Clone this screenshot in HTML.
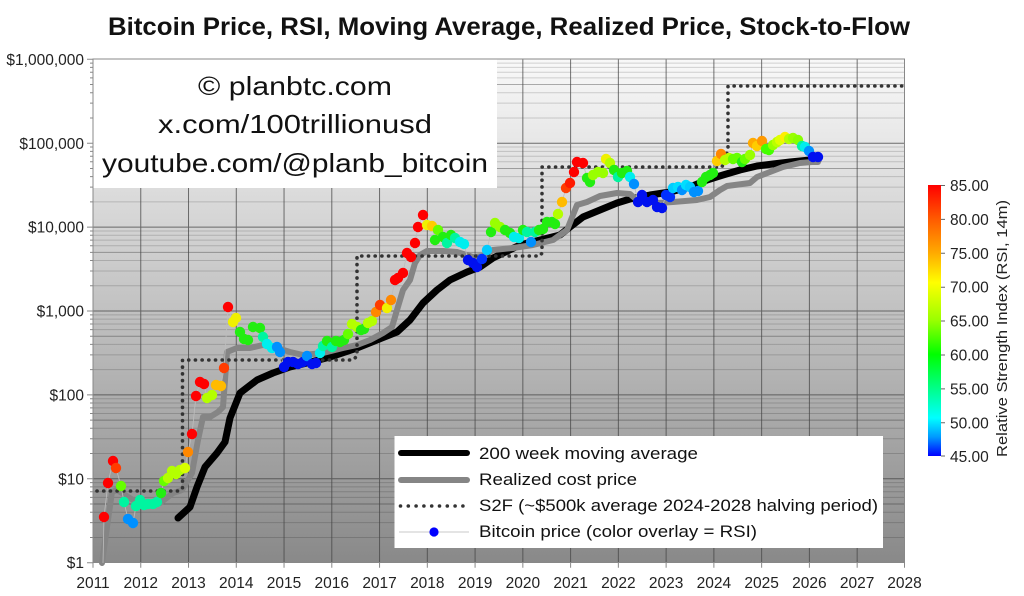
<!DOCTYPE html>
<html><head><meta charset="utf-8">
<style>
html,body{margin:0;padding:0;background:#fff;}
svg{display:block;font-family:"Liberation Sans",sans-serif;}
</style></head>
<body>
<svg width="1024" height="596" viewBox="0 0 1024 596" xmlns="http://www.w3.org/2000/svg">
<defs>
<linearGradient id="bg" x1="0" y1="0" x2="0" y2="1">
<stop offset="0" stop-color="#f9f9f9"/>
<stop offset="1" stop-color="#898989"/>
</linearGradient>
<linearGradient id="cb" x1="0" y1="0" x2="0" y2="1">
<stop offset="0" stop-color="#ff0000"/>
<stop offset="0.125" stop-color="#ff5a00"/>
<stop offset="0.25" stop-color="#ffaa00"/>
<stop offset="0.36" stop-color="#ffff00"/>
<stop offset="0.5" stop-color="#99ff00"/>
<stop offset="0.625" stop-color="#00ff00"/>
<stop offset="0.75" stop-color="#00ff88"/>
<stop offset="0.86" stop-color="#00ffff"/>
<stop offset="0.93" stop-color="#0099ff"/>
<stop offset="1" stop-color="#0000ff"/>
</linearGradient>
</defs>

<!-- title -->
<text x="108" y="35" font-size="25" font-weight="bold" fill="#111" textLength="802" lengthAdjust="spacingAndGlyphs">Bitcoin Price, RSI, Moving Average, Realized Price, Stock-to-Flow</text>

<!-- plot background -->
<rect x="93" y="59" width="811.5" height="503.5" fill="url(#bg)"/>

<!-- minor grid -->
<path fill="none" stroke="#000" stroke-opacity="0.16" stroke-width="1" d="
M93,537.45H904M93,522.67H904M93,512.19H904M93,497.41H904M93,491.8H904M93,486.93H904M93,482.64H904
M93,453.55H904M93,438.77H904M93,428.29H904M93,413.51H904M93,407.9H904M93,403.03H904M93,398.74H904
M93,369.65H904M93,354.87H904M93,344.39H904M93,329.61H904M93,324H904M93,319.13H904M93,314.84H904
M93,285.75H904M93,270.97H904M93,260.49H904M93,245.71H904M93,240.1H904M93,235.23H904M93,230.94H904
M93,201.85H904M93,187.07H904M93,176.59H904M93,161.81H904M93,156.2H904M93,151.33H904M93,147.04H904
M93,117.95H904M93,103.17H904M93,92.69H904M93,77.91H904M93,72.3H904M93,67.43H904M93,63.14H904"/>
<path fill="none" stroke="#000" stroke-opacity="0.3" stroke-width="1" d="M93,504.05H904M93,420.15H904M93,336.25H904M93,252.35H904M93,168.45H904M93,84.55H904"/>
<!-- major grid -->
<path fill="none" stroke="#444" stroke-opacity="0.75" stroke-width="1" d="
M93,478.8H904M93,394.9H904M93,311H904M93,227.1H904M93,143.2H904
M140.76,59V562.7M188.52,59V562.7M236.28,59V562.7M284.04,59V562.7M331.8,59V562.7M379.56,59V562.7M427.32,59V562.7M475.08,59V562.7M522.84,59V562.7M570.6,59V562.7M618.36,59V562.7M666.12,59V562.7M713.88,59V562.7M761.64,59V562.7M809.4,59V562.7M857.16,59V562.7"/>

<!-- watermark box -->
<rect x="93" y="59" width="404" height="129" fill="#fff"/>
<g font-size="26" fill="#111" text-anchor="middle">
<text x="295" y="95" textLength="194" lengthAdjust="spacingAndGlyphs">© planbtc.com</text>
<text x="295" y="133" textLength="274" lengthAdjust="spacingAndGlyphs">x.com/100trillionusd</text>
<text x="295" y="172" textLength="386" lengthAdjust="spacingAndGlyphs">youtube.com/@planb_bitcoin</text>
</g>

<!-- plot frame -->
<rect x="93" y="59" width="811.5" height="503.5" fill="none" stroke="#888" stroke-width="1"/>

<!-- y ticks -->
<path stroke="#888" stroke-width="1" fill="none" d="
M87,562.7H93M87,478.8H93M87,394.9H93M87,311H93M87,227.1H93M87,143.2H93M87,59.3H93
M90,537.45H93M90,522.67H93M90,512.19H93M90,504.05H93M90,497.41H93M90,491.8H93M90,486.93H93M90,482.64H93
M90,453.55H93M90,438.77H93M90,428.29H93M90,420.15H93M90,413.51H93M90,407.9H93M90,403.03H93M90,398.74H93
M90,369.65H93M90,354.87H93M90,344.39H93M90,336.25H93M90,329.61H93M90,324H93M90,319.13H93M90,314.84H93
M90,285.75H93M90,270.97H93M90,260.49H93M90,252.35H93M90,245.71H93M90,240.1H93M90,235.23H93M90,230.94H93
M90,201.85H93M90,187.07H93M90,176.59H93M90,168.45H93M90,161.81H93M90,156.2H93M90,151.33H93M90,147.04H93
M90,117.95H93M90,103.17H93M90,92.69H93M90,84.55H93M90,77.91H93M90,72.3H93M90,67.43H93M90,63.14H93"/>
<!-- x ticks -->
<path stroke="#888" stroke-width="1" fill="none" d="M93,562.7v5M140.76,562.7v5M188.52,562.7v5M236.28,562.7v5M284.04,562.7v5M331.8,562.7v5M379.56,562.7v5M427.32,562.7v5M475.08,562.7v5M522.84,562.7v5M570.6,562.7v5M618.36,562.7v5M666.12,562.7v5M713.88,562.7v5M761.64,562.7v5M809.4,562.7v5M857.16,562.7v5M904.5,562.7v5"/>

<!-- y labels -->
<g font-size="15.5" fill="#222" text-anchor="end">
<text x="84" y="65">$1,000,000</text>
<text x="84" y="149">$100,000</text>
<text x="84" y="232.6">$10,000</text>
<text x="84" y="316.5">$1,000</text>
<text x="84" y="400.4">$100</text>
<text x="84" y="484.3">$10</text>
<text x="84" y="568.2">$1</text>
</g>
<!-- x labels -->
<g font-size="15.5" fill="#222" text-anchor="middle">
<text x="93" y="588">2011</text><text x="140.76" y="588">2012</text><text x="188.52" y="588">2013</text><text x="236.28" y="588">2014</text><text x="284.04" y="588">2015</text><text x="331.8" y="588">2016</text><text x="379.56" y="588">2017</text><text x="427.32" y="588">2018</text><text x="475.08" y="588">2019</text><text x="522.84" y="588">2020</text><text x="570.6" y="588">2021</text><text x="618.36" y="588">2022</text><text x="666.12" y="588">2023</text><text x="713.88" y="588">2024</text><text x="761.64" y="588">2025</text><text x="809.4" y="588">2026</text><text x="857.16" y="588">2027</text><text x="904.5" y="588">2028</text>
</g>

<!-- 200 week MA -->
<polyline fill="none" stroke="#000" stroke-width="7" stroke-linejoin="round" stroke-linecap="round" points="178,518 190,507 197,487 205,467 217,453 225,442 230,418 240,393 257,380 273,373 290,367 307,363 330,357 357,348 377,340 397,332 410,320 423,303 437,290 450,280 467,272 480,267 493,258 520,245 540,240 560,235 570,227 583,217 600,210 617,203 630,199 650,195 670,192 690,187 707,180 723,175 740,170 757,166 773,164 790,162 810,160 818,160"/>
<!-- Realized price -->
<polyline fill="none" stroke="#858585" stroke-width="6" stroke-linejoin="round" stroke-linecap="round" points="102,563 107,527 112,492 117,490 133,500 147,503 160,503 173,493 182,490 192,473 198,440 203,417 210,417 218,412 223,407 225,380 227,352 237,348 250,348 263,345 277,348 290,352 303,355 323,353 343,348 357,345 370,340 383,333 392,327 397,310 403,290 410,280 415,263 420,255 427,251 443,251 457,252 473,257 483,256 493,250 513,248 533,245 553,240 567,230 577,205 587,202 600,196 617,193 630,194 637,200 657,203 673,202 697,200 710,197 720,190 727,186 750,183 757,177 770,172 783,167 800,163 812,162 818,162"/>
<!-- S2F -->
<path fill="none" stroke="#333" stroke-width="3.6" stroke-linecap="round" stroke-dasharray="0.1 6.6" d="M97,491H180L182.5,488V360H353L357,356V256H540L542,253V167H722L728,150V86H904"/>

<!-- price thin line -->
<polyline fill="none" stroke="#bdbdbd" stroke-width="0.8" points="103,563 104,517 108,483 113,461 116,468 121,486 124,502 128,519 133,523 136,506 140,500 144,505 148,504 153,504 157,502 161,493 164,481 168,478 172,471 176,474 180,470 185,468 188,452 192,434 196,396 200,382 204,384 207,398 212,395 216,385 221,386 224,368 228,307 233,322 236,318 240,332 244,339 248,340 253,327 260,328 263,337 267,344 272,348 277,347 280,352 284,367 288,362 293,362 298,364 303,362 307,356 312,364 316,363 320,353 323,346 327,341 332,347 336,341 340,342 344,340 348,334 352,324 357,327 361,330 364,329 368,323 372,321 376,312 380,305 387,308 391,300 395,280 398,278 403,273 407,253 411,257 415,243 418,227 423,215 427,225 432,226 435,240 438,230 443,237 447,243 451,235 455,238 460,242 464,244 468,260 473,263 477,267 482,259 487,250 491,232 495,223 500,227 505,230 510,233 514,237 519,238 523,230 527,232 531,242 535,232 539,230 543,229 547,222 552,222 555,224 558,214 562,202 566,188 570,183 574,172 577,162 583,163 587,178 590,182 593,175 598,172 603,173 606,159 610,163 614,170 618,177 622,173 627,171 630,177 634,184 638,202 642,195 647,202 653,200 657,207 662,208 666,195 670,197 673,188 678,187 682,190 686,185 690,187 694,192 698,191 702,182 706,177 710,175 713,173 717,161 721,154 725,160 729,158 733,159 737,158 742,162 745,159 750,155 753,143 757,146 762,141 766,149 769,150 773,145 777,142 780,140 785,137 789,139 793,138 798,140 802,146 805,147 809,151 813,157 818,157"/>

<!-- price dots -->
<g>
<circle cx="104" cy="517" r="5.2" fill="#ff0000"/><circle cx="108" cy="483" r="5.2" fill="#ff0000"/><circle cx="113" cy="461" r="5.2" fill="#ff0000"/><circle cx="116" cy="468" r="5.2" fill="#ff3c00"/><circle cx="121" cy="486" r="5.2" fill="#66ff00"/><circle cx="124" cy="502" r="5.2" fill="#00f5a0"/><circle cx="128" cy="519" r="5.2" fill="#0090ff"/><circle cx="133" cy="523" r="5.2" fill="#0090ff"/><circle cx="136" cy="506" r="5.2" fill="#00f5a0"/><circle cx="140" cy="500" r="5.2" fill="#00f5a0"/><circle cx="144" cy="505" r="5.2" fill="#00f5a0"/><circle cx="148" cy="504" r="5.2" fill="#00f5a0"/><circle cx="153" cy="504" r="5.2" fill="#00f5a0"/><circle cx="157" cy="502" r="5.2" fill="#00f5a0"/><circle cx="161" cy="493" r="5.2" fill="#22ee11"/><circle cx="164" cy="481" r="5.2" fill="#66ff00"/><circle cx="168" cy="478" r="5.2" fill="#b4ff00"/><circle cx="172" cy="471" r="5.2" fill="#b4ff00"/><circle cx="176" cy="474" r="5.2" fill="#b4ff00"/><circle cx="180" cy="470" r="5.2" fill="#b4ff00"/><circle cx="185" cy="468" r="5.2" fill="#d8ff00"/><circle cx="188" cy="452" r="5.2" fill="#ff8800"/><circle cx="192" cy="434" r="5.2" fill="#ff0000"/>
<circle cx="196" cy="396" r="5.2" fill="#ff0000"/><circle cx="200" cy="382" r="5.2" fill="#ff0000"/><circle cx="204" cy="384" r="5.2" fill="#ff0000"/><circle cx="207" cy="398" r="5.2" fill="#b4ff00"/><circle cx="212" cy="395" r="5.2" fill="#b4ff00"/><circle cx="216" cy="385" r="5.2" fill="#ffbb00"/><circle cx="221" cy="386" r="5.2" fill="#ffbb00"/><circle cx="224" cy="368" r="5.2" fill="#ff3c00"/><circle cx="228" cy="307" r="5.2" fill="#ff0000"/><circle cx="233" cy="322" r="5.2" fill="#f0f000"/><circle cx="236" cy="318" r="5.2" fill="#f0f000"/><circle cx="240" cy="332" r="5.2" fill="#22ee11"/><circle cx="244" cy="339" r="5.2" fill="#22ee11"/><circle cx="248" cy="340" r="5.2" fill="#22ee11"/><circle cx="253" cy="327" r="5.2" fill="#22ee11"/><circle cx="260" cy="328" r="5.2" fill="#22ee11"/><circle cx="263" cy="337" r="5.2" fill="#00f5a0"/><circle cx="267" cy="344" r="5.2" fill="#00eeee"/><circle cx="272" cy="348" r="5.2" fill="#00eeee"/><circle cx="277" cy="347" r="5.2" fill="#0090ff"/><circle cx="280" cy="352" r="5.2" fill="#0090ff"/><circle cx="284" cy="367" r="5.2" fill="#0010f0"/><circle cx="288" cy="362" r="5.2" fill="#0010f0"/><circle cx="293" cy="362" r="5.2" fill="#0010f0"/><circle cx="298" cy="364" r="5.2" fill="#0010f0"/><circle cx="303" cy="362" r="5.2" fill="#0010f0"/><circle cx="307" cy="356" r="5.2" fill="#0090ff"/><circle cx="312" cy="364" r="5.2" fill="#0010f0"/><circle cx="316" cy="363" r="5.2" fill="#0010f0"/><circle cx="320" cy="353" r="5.2" fill="#00eeee"/><circle cx="323" cy="346" r="5.2" fill="#00f5a0"/><circle cx="327" cy="341" r="5.2" fill="#22ee11"/><circle cx="332" cy="347" r="5.2" fill="#00f5a0"/><circle cx="336" cy="341" r="5.2" fill="#22ee11"/><circle cx="340" cy="342" r="5.2" fill="#22ee11"/><circle cx="344" cy="340" r="5.2" fill="#22ee11"/><circle cx="348" cy="334" r="5.2" fill="#66ff00"/><circle cx="352" cy="324" r="5.2" fill="#b4ff00"/><circle cx="357" cy="327" r="5.2" fill="#b4ff00"/><circle cx="361" cy="330" r="5.2" fill="#22ee11"/><circle cx="364" cy="329" r="5.2" fill="#22ee11"/><circle cx="368" cy="323" r="5.2" fill="#b4ff00"/><circle cx="372" cy="321" r="5.2" fill="#b4ff00"/><circle cx="376" cy="312" r="5.2" fill="#ff8800"/><circle cx="380" cy="305" r="5.2" fill="#ff3c00"/><circle cx="387" cy="308" r="5.2" fill="#f0f000"/><circle cx="391" cy="300" r="5.2" fill="#ff8800"/><circle cx="395" cy="280" r="5.2" fill="#ff0000"/><circle cx="398" cy="278" r="5.2" fill="#ff0000"/><circle cx="403" cy="273" r="5.2" fill="#ff0000"/><circle cx="407" cy="253" r="5.2" fill="#ff0000"/><circle cx="411" cy="257" r="5.2" fill="#ff0000"/><circle cx="415" cy="243" r="5.2" fill="#ff0000"/><circle cx="418" cy="227" r="5.2" fill="#ff0000"/><circle cx="423" cy="215" r="5.2" fill="#ff0000"/><circle cx="427" cy="225" r="5.2" fill="#f0f000"/><circle cx="432" cy="226" r="5.2" fill="#ffcc00"/><circle cx="435" cy="240" r="5.2" fill="#22ee11"/><circle cx="438" cy="230" r="5.2" fill="#66ff00"/><circle cx="443" cy="237" r="5.2" fill="#22ee11"/><circle cx="447" cy="243" r="5.2" fill="#00f5a0"/><circle cx="451" cy="235" r="5.2" fill="#22ee11"/><circle cx="455" cy="238" r="5.2" fill="#00f5a0"/><circle cx="460" cy="242" r="5.2" fill="#00eeee"/><circle cx="464" cy="244" r="5.2" fill="#00eeee"/><circle cx="468" cy="260" r="5.2" fill="#0010f0"/><circle cx="473" cy="263" r="5.2" fill="#0010f0"/><circle cx="477" cy="267" r="5.2" fill="#0010f0"/><circle cx="482" cy="259" r="5.2" fill="#0030ff"/><circle cx="487" cy="250" r="5.2" fill="#00ccff"/><circle cx="491" cy="232" r="5.2" fill="#22ee11"/><circle cx="495" cy="223" r="5.2" fill="#99ff00"/><circle cx="500" cy="227" r="5.2" fill="#99ff00"/><circle cx="505" cy="230" r="5.2" fill="#22ee11"/><circle cx="510" cy="233" r="5.2" fill="#22ee11"/><circle cx="514" cy="237" r="5.2" fill="#00eeee"/><circle cx="519" cy="238" r="5.2" fill="#00eeee"/><circle cx="523" cy="230" r="5.2" fill="#22ee11"/><circle cx="527" cy="232" r="5.2" fill="#00f5a0"/><circle cx="531" cy="242" r="5.2" fill="#0090ff"/><circle cx="535" cy="232" r="5.2" fill="#00f5a0"/><circle cx="539" cy="230" r="5.2" fill="#22ee11"/><circle cx="543" cy="229" r="5.2" fill="#22ee11"/><circle cx="547" cy="222" r="5.2" fill="#22ee11"/><circle cx="552" cy="222" r="5.2" fill="#22ee11"/><circle cx="555" cy="224" r="5.2" fill="#22ee11"/><circle cx="558" cy="214" r="5.2" fill="#b4ff00"/><circle cx="562" cy="202" r="5.2" fill="#ffbb00"/><circle cx="566" cy="188" r="5.2" fill="#ff3c00"/><circle cx="570" cy="183" r="5.2" fill="#ff1a00"/><circle cx="574" cy="172" r="5.2" fill="#ff0000"/><circle cx="577" cy="162" r="5.2" fill="#ff0000"/><circle cx="583" cy="163" r="5.2" fill="#ff0000"/><circle cx="587" cy="178" r="5.2" fill="#22ee11"/><circle cx="590" cy="182" r="5.2" fill="#22ee11"/><circle cx="593" cy="175" r="5.2" fill="#99ff00"/><circle cx="598" cy="172" r="5.2" fill="#99ff00"/><circle cx="603" cy="173" r="5.2" fill="#99ff00"/><circle cx="606" cy="159" r="5.2" fill="#f0f000"/><circle cx="610" cy="163" r="5.2" fill="#b4ff00"/><circle cx="614" cy="170" r="5.2" fill="#22ee11"/><circle cx="618" cy="177" r="5.2" fill="#00f5a0"/><circle cx="622" cy="173" r="5.2" fill="#22ee11"/><circle cx="627" cy="171" r="5.2" fill="#22ee11"/><circle cx="630" cy="177" r="5.2" fill="#00eeee"/><circle cx="634" cy="184" r="5.2" fill="#0090ff"/><circle cx="638" cy="202" r="5.2" fill="#0010f0"/><circle cx="642" cy="195" r="5.2" fill="#0010f0"/><circle cx="647" cy="202" r="5.2" fill="#0010f0"/><circle cx="653" cy="200" r="5.2" fill="#0010f0"/><circle cx="657" cy="207" r="5.2" fill="#0010f0"/><circle cx="662" cy="208" r="5.2" fill="#0010f0"/><circle cx="666" cy="195" r="5.2" fill="#0030ff"/><circle cx="670" cy="197" r="5.2" fill="#0030ff"/><circle cx="673" cy="188" r="5.2" fill="#00ccff"/><circle cx="678" cy="187" r="5.2" fill="#00ddff"/><circle cx="682" cy="190" r="5.2" fill="#0090ff"/><circle cx="686" cy="185" r="5.2" fill="#00ddff"/><circle cx="690" cy="187" r="5.2" fill="#00ccff"/><circle cx="694" cy="192" r="5.2" fill="#0090ff"/><circle cx="698" cy="191" r="5.2" fill="#0090ff"/><circle cx="702" cy="182" r="5.2" fill="#22ee11"/><circle cx="706" cy="177" r="5.2" fill="#22ee11"/><circle cx="710" cy="175" r="5.2" fill="#22ee11"/><circle cx="713" cy="173" r="5.2" fill="#22ee11"/><circle cx="717" cy="161" r="5.2" fill="#ffcc00"/><circle cx="721" cy="154" r="5.2" fill="#ff8800"/><circle cx="725" cy="160" r="5.2" fill="#b4ff00"/><circle cx="729" cy="158" r="5.2" fill="#b4ff00"/><circle cx="733" cy="159" r="5.2" fill="#66ff00"/><circle cx="737" cy="158" r="5.2" fill="#66ff00"/><circle cx="742" cy="162" r="5.2" fill="#22ee11"/><circle cx="745" cy="159" r="5.2" fill="#66ff00"/><circle cx="750" cy="155" r="5.2" fill="#99ff00"/><circle cx="753" cy="143" r="5.2" fill="#ffaa00"/><circle cx="757" cy="146" r="5.2" fill="#ffcc00"/><circle cx="762" cy="141" r="5.2" fill="#ff9900"/><circle cx="766" cy="149" r="5.2" fill="#44ff00"/><circle cx="769" cy="150" r="5.2" fill="#44ff00"/><circle cx="773" cy="145" r="5.2" fill="#99ff00"/><circle cx="777" cy="142" r="5.2" fill="#bbff00"/><circle cx="780" cy="140" r="5.2" fill="#e0ff00"/><circle cx="785" cy="137" r="5.2" fill="#ffee00"/><circle cx="789" cy="139" r="5.2" fill="#b4ff00"/><circle cx="793" cy="138" r="5.2" fill="#99ff00"/><circle cx="798" cy="140" r="5.2" fill="#88ff00"/><circle cx="802" cy="146" r="5.2" fill="#00f5a0"/><circle cx="805" cy="147" r="5.2" fill="#00eeee"/><circle cx="809" cy="151" r="5.2" fill="#0090ff"/><circle cx="813" cy="157" r="5.2" fill="#0010f0"/><circle cx="818" cy="157" r="5.2" fill="#0010f0"/>
</g>

<!-- legend -->
<rect x="394.5" y="436" width="488.5" height="112" fill="#fff"/>
<line x1="401" y1="453" x2="467" y2="453" stroke="#000" stroke-width="6" stroke-linecap="round"/>
<line x1="401" y1="480" x2="467" y2="480" stroke="#858585" stroke-width="6" stroke-linecap="round"/>
<g fill="#333">
<circle cx="400.5" cy="506" r="1.8"/><circle cx="408.3" cy="506" r="1.8"/><circle cx="416.1" cy="506" r="1.8"/><circle cx="423.9" cy="506" r="1.8"/><circle cx="431.7" cy="506" r="1.8"/><circle cx="439.5" cy="506" r="1.8"/><circle cx="447.3" cy="506" r="1.8"/><circle cx="455.1" cy="506" r="1.8"/><circle cx="462.9" cy="506" r="1.8"/>
</g>
<line x1="399" y1="532" x2="469" y2="532" stroke="#c8c8c8" stroke-width="1"/>
<circle cx="434" cy="532" r="4.6" fill="#0000ff"/>
<g font-size="17" fill="#111">
<text x="479" y="459" textLength="219" lengthAdjust="spacingAndGlyphs">200 week moving average</text>
<text x="479" y="485" textLength="158" lengthAdjust="spacingAndGlyphs">Realized cost price</text>
<text x="479" y="511" textLength="399" lengthAdjust="spacingAndGlyphs">S2F (~$500k average 2024-2028 halving period)</text>
<text x="479" y="537" textLength="278" lengthAdjust="spacingAndGlyphs">Bitcoin price (color overlay = RSI)</text>
</g>

<!-- colorbar -->
<rect x="928" y="185" width="13" height="271" fill="url(#cb)"/>
<path stroke="#666" stroke-width="1" d="M941,185.5h4M941,219.4h4M941,253.3h4M941,287.2h4M941,321h4M941,355h4M941,388.9h4M941,422.8h4M941,456h4"/>
<g font-size="15.5" fill="#222">
<text x="950" y="191">85.00</text>
<text x="950" y="224.9">80.00</text>
<text x="950" y="258.8">75.00</text>
<text x="950" y="292.7">70.00</text>
<text x="950" y="326.5">65.00</text>
<text x="950" y="360.5">60.00</text>
<text x="950" y="394.4">55.00</text>
<text x="950" y="428.3">50.00</text>
<text x="950" y="462">45.00</text>
</g>
<text transform="translate(1007,457) rotate(-90)" font-size="14.5" fill="#222" textLength="257" lengthAdjust="spacingAndGlyphs">Relative Strength Index (RSI, 14m)</text>
</svg>
</body></html>
